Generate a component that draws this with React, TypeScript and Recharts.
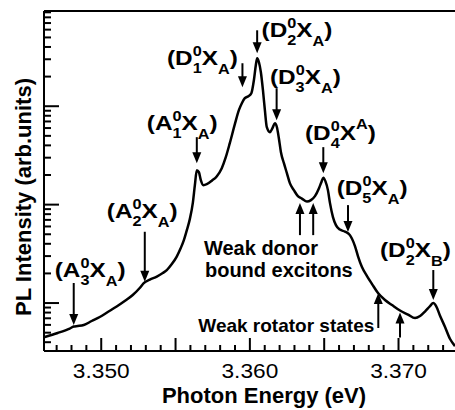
import React from 'react';
import { LineChart, Line, XAxis, YAxis, ReferenceDot, ReferenceLine } from 'recharts';

// ---- spectrum (photon energy in eV, PL intensity in arb. units, log scale) ----
const energies = [
  3.3462, 3.34707, 3.34788, 3.34815, 3.34842, 3.34882, 3.34936, 3.3499, 3.35044, 3.35104,
  3.35158, 3.35212, 3.35259, 3.35286, 3.35327, 3.35374, 3.35414, 3.35441, 3.35475, 3.35508,
  3.35535, 3.35556, 3.35576, 3.35596, 3.35616, 3.3563, 3.35643, 3.35657, 3.3567, 3.35687,
  3.3571, 3.35744, 3.35778, 3.35811, 3.35838, 3.35865, 3.35899, 3.35926, 3.35946, 3.35966,
  3.3599, 3.3601, 3.36027, 3.3604, 3.36049, 3.36061, 3.36074, 3.36088, 3.36101, 3.36114,
  3.36135, 3.36152, 3.36168, 3.36182, 3.36195, 3.36209, 3.36229, 3.36249, 3.36269, 3.36296,
  3.36323, 3.3635, 3.36384, 3.36411, 3.36438, 3.36465, 3.36481, 3.36494, 3.36508, 3.36525,
  3.36539, 3.36559, 3.36579, 3.36606, 3.3664, 3.36673, 3.36707, 3.36727, 3.36754, 3.36788,
  3.36822, 3.36862, 3.36909, 3.36956, 3.3701, 3.37064, 3.37111, 3.37145, 3.37178, 3.37212,
  3.37234, 3.37253, 3.3728, 3.37313, 3.37347, 3.3738,
];
const intensities = [
  0.452, 0.496, 0.551, 0.577, 0.584, 0.598, 0.657, 0.721, 0.81, 0.922,
  1.048, 1.206, 1.42, 1.596, 1.732, 1.858, 2.016, 2.163, 2.489, 2.966,
  3.618, 4.362, 5.509, 7.125, 10.36, 15.78, 22.4, 21.38, 17.73, 15.78,
  16.15, 17.52, 19.47, 23.48, 30.35, 42.11, 65.67, 91.09, 107.3, 120.6,
  126.3, 135.5, 183.7, 260.8, 307.2, 279.7, 221.4, 145.4, 91.09, 61.22,
  54.45, 59.79, 67.21, 61.22, 47.32, 34.12, 26.38, 20.89, 16.53, 14.04,
  12.2, 11.51, 10.73, 11.11, 12.2, 14.71, 16.92, 18.8, 17.32, 14.04,
  10.36, 7.466, 6.193, 5.575, 5.32, 4.901, 3.79, 3.001, 2.32, 1.88,
  1.559, 1.264, 1.073, 0.954, 0.839, 0.764, 0.704, 0.738, 0.82, 0.932,
  1.0, 0.932, 0.738, 0.571, 0.431, 0.365,
];

// ---- axes ----
const xDomain = [3.34615, 3.3738];
const xMinorTicks = [
  3.347, 3.348, 3.349, 3.35, 3.351, 3.352, 3.353, 3.354, 3.355, 3.356, 3.357, 3.358, 3.359,
  3.36, 3.361, 3.362, 3.363, 3.364, 3.365, 3.366, 3.367, 3.368, 3.369, 3.37, 3.371, 3.372, 3.373,
];
const xMajorTicks = [3.35, 3.355, 3.36, 3.365, 3.37];
const xLabeledTicks = [3.35, 3.36, 3.37];
const xTickLabels = ['3.350', '3.360', '3.370'];

const yDomain = [0.3256, 928];
const yMajorTicks = [1, 10, 100];
const yAllTicks = [
  0.4, 0.5, 0.6, 0.7, 0.8, 0.9, 1, 2, 3, 4, 5, 6, 7, 8, 9, 10,
  20, 30, 40, 50, 60, 70, 80, 90, 100, 200, 300, 400, 500, 600, 700, 800, 900,
];

// ---- peak assignments (down arrows) ----
const peakAtoms = ['A', 'A', 'A', 'D', 'D', 'D', 'D', 'D', 'D'];
const peakIndices = ['3', '2', '1', '1', '2', '3', '4', '5', '2'];
const peakExcitons = ['A', 'A', 'A', 'A', 'A', 'A', 'A', 'A', 'B'];
const peakExcitonSup = [false, false, false, false, false, false, true, false, false];
const peakEnergies = [3.34815, 3.35293, 3.35643, 3.3595, 3.36049, 3.3618, 3.36494, 3.3666, 3.37234];
const peakTipValues = [0.598, 1.645, 26.38, 155.9, 345, 72.1, 20.89, 5.258, 1.073];

// ---- weak features (up arrows) ----
const donorEnergies = [3.36337, 3.36426];
const donorTipValues = [10.36, 10.36];
const rotatorEnergies = [3.36864, 3.3701];
const rotatorTipValues = [1.264, 0.801];

// layout of annotations (pixels relative to arrow tip)
const peakLayout = [
  { len: 42, dx: -19, dy: -48 },
  { len: 50, dx: -38, dy: -63.5 },
  { len: 26, dx: -50, dy: -33 },
  { len: 24, dx: -75.5, dy: -22 },
  { len: 23, dx: 4.4, dy: -16 },
  { len: 32, dx: -6.7, dy: -36 },
  { len: 26, dx: -18.3, dy: -33 },
  { len: 27, dx: -11.3, dy: -37 },
  { len: 30, dx: -53.3, dy: -43.5 },
];

const FONT = '"Liberation Sans", Arial, Helvetica, sans-serif';
const data = energies.map((e, i) => ({ e, v: intensities[i] }));
const near = (a: number, b: number) => Math.abs(a - b) < 1e-7;

const XTick = (props: any) => {
  const { x, y, payload } = props;
  const v = payload.value;
  const major = xMajorTicks.some((m) => near(m, v));
  const li = xLabeledTicks.findIndex((m) => near(m, v));
  return (
    <g>
      <line x1={x} x2={x} y1={y} y2={y - (major ? 13 : 6)} stroke="#000" strokeWidth={2} />
      {li >= 0 && (
        <text
          x={0}
          y={0}
          transform={`translate(${x},${y + 27}) scale(1.08,1)`}
          textAnchor="middle"
          fontFamily={FONT}
          fontSize={21}
          fill="#000"
        >
          {xTickLabels[li]}
        </text>
      )}
    </g>
  );
};

const YTick = (props: any) => {
  const { x, y, payload } = props;
  const major = yMajorTicks.some((m) => near(m, payload.value));
  return <line x1={x} x2={x + (major ? 15 : 7)} y1={y} y2={y} stroke="#000" strokeWidth={2} />;
};

const DownArrow = ({ cx, cy, len }: any) => (
  <g>
    <line x1={cx} x2={cx} y1={cy - len} y2={cy - 8} stroke="#000" strokeWidth={2} />
    <polygon points={`${cx - 4.5},${cy - 11} ${cx + 4.5},${cy - 11} ${cx},${cy}`} fill="#000" />
  </g>
);

const UpArrow = ({ cx, cy, len }: any) => (
  <g>
    <line x1={cx} x2={cx} y1={cy + len} y2={cy + 8} stroke="#000" strokeWidth={2} />
    <polygon points={`${cx - 4.5},${cy + 11} ${cx + 4.5},${cy + 11} ${cx},${cy}`} fill="#000" />
  </g>
);

const PeakMark = (props: any) => {
  const { cx, cy, i } = props;
  if (cx == null || cy == null) return null;
  const L = peakLayout[i];
  const sup = peakExcitonSup[i];
  return (
    <g>
      <DownArrow cx={cx} cy={cy} len={L.len} />
      <text
        x={0}
        y={0}
        transform={`translate(${cx + L.dx},${cy + L.dy}) scale(1.16,1)`}
        fontFamily={FONT}
        fontWeight="bold"
        fontSize={21}
        fill="#000"
      >
        <tspan>({peakAtoms[i]}</tspan>
        <tspan fontSize={14} dy={-9}>0</tspan>
        <tspan fontSize={14} dx={-7.8} dy={17}>{peakIndices[i]}</tspan>
        <tspan dy={-8}>X</tspan>
        <tspan fontSize={14} dy={sup ? -11 : 9}>{peakExcitons[i]}</tspan>
        <tspan dy={sup ? 11 : -9}>)</tspan>
      </text>
    </g>
  );
};

const DonorMark = (props: any) => {
  const { cx, cy, i } = props;
  if (cx == null || cy == null) return null;
  return (
    <g>
      <UpArrow cx={cx} cy={cy} len={32} />
      {i === 0 && (
        <text fontFamily={FONT} fontWeight="bold" fontSize={20} fill="#000">
          <tspan x={cx - 96} y={cy + 52}>Weak donor</tspan>
          <tspan x={cx - 95} y={cy + 74}>bound excitons</tspan>
        </text>
      )}
    </g>
  );
};

const RotatorMark = (props: any) => {
  const { cx, cy, i } = props;
  if (cx == null || cy == null) return null;
  return (
    <g>
      <UpArrow cx={cx} cy={cy} len={i === 0 ? 35 : 25} />
      {i === 0 && (
        <text x={cx - 180} y={cy + 39} fontFamily={FONT} fontWeight="bold" fontSize={19} fill="#000">
          Weak rotator states
        </text>
      )}
    </g>
  );
};

const XTitle = () => (
  <text x={264} y={403} textAnchor="middle" fontFamily={FONT} fontWeight="bold" fontSize={22} fill="#000">
    Photon Energy (eV)
  </text>
);

const YTitle = () => (
  <text
    x={31}
    y={197}
    transform="rotate(-90, 31, 197)"
    textAnchor="middle"
    fontFamily={FONT}
    fontWeight="bold"
    fontSize={22}
    fill="#000"
  >
    PL Intensity (arb.units)
  </text>
);

export default function App() {
  return (
    <div style={{ position: 'fixed', left: 0, top: 0, width: 455, height: 410, overflow: 'hidden', background: '#fff' }}>
      <LineChart width={455} height={410} data={data} margin={{ top: 11, right: 0, bottom: 0, left: 0 }}>
        <XAxis
          dataKey="e"
          type="number"
          domain={xDomain}
          allowDataOverflow
          ticks={xMinorTicks}
          interval={0}
          tickSize={0}
          tickMargin={0}
          tickLine={false}
          tick={<XTick />}
          axisLine={{ stroke: '#000', strokeWidth: 2 }}
          height={59}
          label={<XTitle />}
        />
        <YAxis
          dataKey="v"
          scale="log"
          type="number"
          domain={yDomain}
          allowDataOverflow
          ticks={yAllTicks}
          interval={0}
          tickSize={0}
          tickMargin={0}
          tickLine={false}
          tick={<YTick />}
          axisLine={{ stroke: '#000', strokeWidth: 2 }}
          width={44}
          label={<YTitle />}
        />
        <ReferenceLine y={yDomain[1]} stroke="#000" strokeWidth={2} />
        <Line
          type="monotone"
          dataKey="v"
          stroke="#000"
          strokeWidth={2.5}
          dot={false}
          activeDot={false}
          isAnimationActive={false}
        />
        {peakEnergies.map((e, i) => (
          <ReferenceDot key={'p' + i} x={e} y={peakTipValues[i]} r={0} shape={(p: any) => <PeakMark {...p} i={i} />} />
        ))}
        {donorEnergies.map((e, i) => (
          <ReferenceDot key={'d' + i} x={e} y={donorTipValues[i]} r={0} shape={(p: any) => <DonorMark {...p} i={i} />} />
        ))}
        {rotatorEnergies.map((e, i) => (
          <ReferenceDot key={'r' + i} x={e} y={rotatorTipValues[i]} r={0} shape={(p: any) => <RotatorMark {...p} i={i} />} />
        ))}
      </LineChart>
    </div>
  );
}
